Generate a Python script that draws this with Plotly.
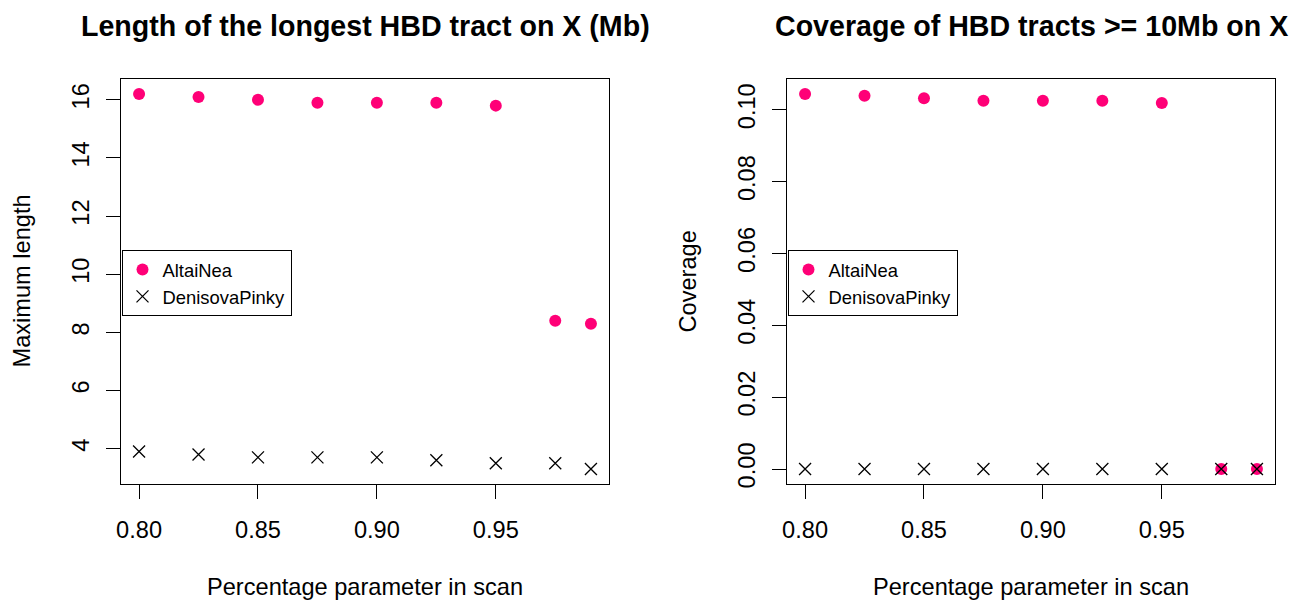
import plotly.graph_objects as go

# ---- data ----
scan_pct = [0.80, 0.825, 0.85, 0.875, 0.90, 0.925, 0.95, 0.975, 0.99]
max_len_altai = [16.2, 16.1, 16.0, 15.9, 15.9, 15.9, 15.8, 8.4, 8.3]
max_len_denisova = [3.9, 3.8, 3.7, 3.7, 3.7, 3.6, 3.5, 3.5, 3.3]
cov_altai = [0.1044, 0.1039, 0.1032, 0.1025, 0.1025, 0.1025, 0.1019, 0.0, 0.0]
cov_denisova = [0.0, 0.0, 0.0, 0.0, 0.0, 0.0, 0.0, 0.0, 0.0]
x_ticks = [0.80, 0.85, 0.90, 0.95]
y1_ticks = [4, 6, 8, 10, 12, 14, 16]
y2_ticks = [0.00, 0.02, 0.04, 0.06, 0.08, 0.10]
series_names = ["AltaiNea", "DenisovaPinky"]

PINK = "#FF0077"
FONT = "Liberation Sans, Arial, Helvetica, sans-serif"
W, H = 1303, 603
BASE = 23.6

fig = go.Figure()

def circ(x, y, xa, ya, lg, show):
    return go.Scatter(x=x, y=y, mode="markers", name=series_names[0], xaxis=xa, yaxis=ya,
                      legend=lg, showlegend=show,
                      marker=dict(symbol="circle", size=12, color=PINK, line=dict(width=0)))

def cross(x, y, xa, ya, lg, show):
    return go.Scatter(x=x, y=y, mode="markers", name=series_names[1], xaxis=xa, yaxis=ya,
                      legend=lg, showlegend=show,
                      marker=dict(symbol="x-thin", size=12, color="black",
                                  line=dict(width=1.3, color="black")))

fig.add_trace(circ(scan_pct, max_len_altai, "x", "y", "legend", True))
fig.add_trace(cross(scan_pct, max_len_denisova, "x", "y", "legend", True))
fig.add_trace(circ(scan_pct, cov_altai, "x2", "y2", "legend2", True))
fig.add_trace(cross(scan_pct, cov_denisova, "x2", "y2", "legend2", True))

def rng(vals):
    lo, hi = min(vals), max(vals)
    d = (hi - lo) * 0.04
    return [lo - d, hi + d]

xr = rng(scan_pct)
y1r = rng(max_len_altai + max_len_denisova)
y2r = rng(cov_altai + cov_denisova)

ydom = [(H - 484) / H, (H - 79) / H]
dom1 = [121 / W, 609 / W]
dom2 = [787 / W, 1275 / W]

axis_common = dict(showline=True, linecolor="black", linewidth=1, mirror=True,
                   ticks="outside", ticklen=14, tickcolor="black", tickwidth=1,
                   showgrid=False, zeroline=False, automargin=False,
                   tickfont=dict(family=FONT, size=BASE, color="black"))

fig.update_layout(
    width=W, height=H, template="none",
    margin=dict(l=0, r=0, t=0, b=0),
    paper_bgcolor="white", plot_bgcolor="white",
    xaxis=dict(domain=dom1, range=xr, tickvals=x_ticks, tickformat=".2f", anchor="y",
               ticklabelstandoff=11, **axis_common),
    yaxis=dict(domain=ydom, range=y1r, tickvals=y1_ticks, tickangle=-90, anchor="x",
               ticklabelstandoff=8, **axis_common),
    xaxis2=dict(domain=dom2, range=xr, tickvals=x_ticks, tickformat=".2f", anchor="y2",
                ticklabelstandoff=11, **axis_common),
    yaxis2=dict(domain=ydom, range=y2r, tickvals=y2_ticks, tickformat=".2f", tickangle=-90,
                anchor="x2", ticklabelstandoff=8, **axis_common),
    legend=dict(x=121.5 / W, y=1 - 250 / H, xanchor="left", yanchor="top",
                bordercolor="black", borderwidth=1, bgcolor="white",
                font=dict(family=FONT, size=18.4, color="black")),
    legend2=dict(x=787.5 / W, y=1 - 250 / H, xanchor="left", yanchor="top",
                 bordercolor="black", borderwidth=1, bgcolor="white",
                 font=dict(family=FONT, size=18.4, color="black")),
)

def ann(text, x, y, size, bold=False, angle=0):
    return dict(text=("<b>%s</b>" % text) if bold else text, x=x / W, y=1 - y / H,
                xref="paper", yref="paper", xanchor="center", yanchor="middle",
                showarrow=False, textangle=angle,
                font=dict(family=FONT, size=size, color="black"))

cx1 = (121 + 609) / 2
cx2 = (787 + 1275) / 2
cy = (79 + 484) / 2
fig.update_layout(annotations=[
    ann("Length of the longest HBD tract on X (Mb)", cx1, 26, 28.6, bold=True),
    ann("Coverage of HBD tracts &gt;= 10Mb on X", cx2, 26, 28.6, bold=True),
    ann("Percentage parameter in scan", cx1, 587, BASE),
    ann("Percentage parameter in scan", cx2, 587, BASE),
    ann("Maximum length", 22, cy, BASE, angle=-90),
    ann("Coverage", 688, cy, BASE, angle=-90),
])

fig.write_html("out.html")
